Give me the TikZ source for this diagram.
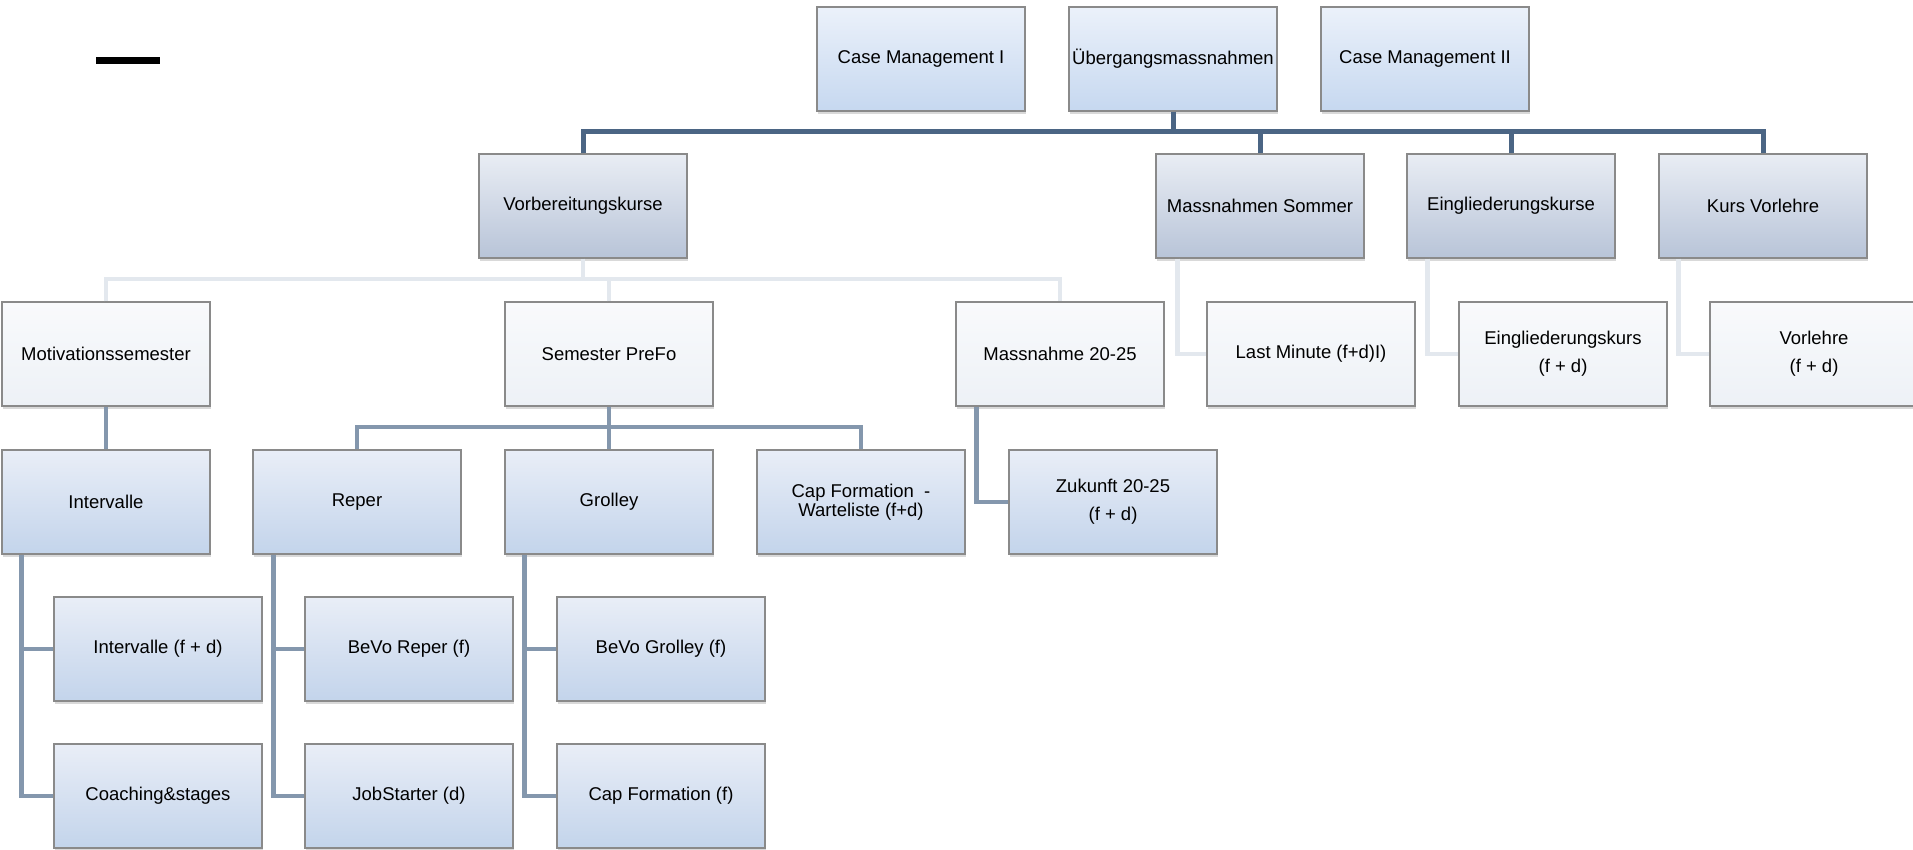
\documentclass[tikz,border=0pt]{standalone}
\usepackage{fontspec}
\setmainfont{Liberation Sans}
\usetikzlibrary{shadows}
\definecolor{busdark}{HTML}{4B6584}
\definecolor{busmid}{HTML}{8497AD}
\definecolor{buslight}{HTML}{E3E8EE}
\definecolor{boxline}{HTML}{8A8A8A}
\definecolor{topA}{HTML}{EBF1FA}
\definecolor{topB}{HTML}{C6D8F0}
\definecolor{grayA}{HTML}{E9EDF4}
\definecolor{grayB}{HTML}{B8C4D8}
\definecolor{paleA}{HTML}{F9FAFC}
\definecolor{paleB}{HTML}{EDF1F6}
\definecolor{blueA}{HTML}{E9EEF7}
\definecolor{blueB}{HTML}{C3D4EB}

\begin{document}
\begin{tikzpicture}[x=0.5pt,y=-0.5pt,
  box/.style={draw=boxline, line width=0.7pt, minimum width=104pt, minimum height=52pt,
    inner sep=0pt, align=center, font=\fontsize{9.25}{9.6}\selectfont,
    drop shadow={shadow xshift=0.3pt, shadow yshift=-1.6pt, opacity=0.3}},
  toprow/.style={box, top color=topA, bottom color=topB},
  grayrow/.style={box, top color=grayA, bottom color=grayB},
  palerow/.style={box, top color=paleA, bottom color=paleB},
  bluerow/.style={box, top color=blueA, bottom color=blueB},
  darkline/.style={draw=busdark, line width=2.5pt},
  midline/.style={draw=busmid, line width=2.4pt},
  lightline/.style={draw=buslight, line width=2.4pt}]
\useasboundingbox (0,0) rectangle (1913,850);
\fill (96,57) rectangle (160,64);
% top row
\node[toprow] (cm1) at (921,59) {Case Management I};
\node[toprow] (ueber) at (1173,59) {Übergangsmassnahmen};
\node[toprow] (cm2) at (1425,59) {Case Management II};
% second row
\node[grayrow] (vorb) at (583,206) {Vorbereitungskurse};
\node[grayrow] (msommer) at (1260,206) {Massnahmen Sommer};
\node[grayrow] (eingl) at (1511,206) {Eingliederungskurse};
\node[grayrow] (kursv) at (1763,206) {Kurs Vorlehre};
% third row
\node[palerow] (motiv) at (106,354) {Motivationssemester};
\node[palerow] (sem) at (609,354) {Semester PreFo};
\node[palerow] (m2025) at (1060,354) {Massnahme 20-25};
\node[palerow] (lastmin) at (1311,354) {Last Minute (f+d)I)};
\node[palerow] (einglk) at (1563,354) {Eingliederungskurs\\[4.6pt](f + d)};
\node[palerow] (vorl) at (1814,354) {Vorlehre\\[4.6pt](f + d)};
% fourth row
\node[bluerow] (interv) at (106,502) {Intervalle};
\node[bluerow] (reper) at (357,502) {Reper};
\node[bluerow] (grolley) at (609,502) {Grolley};
\node[bluerow] (capw) at (861,502) {Cap Formation\ \ -\\Warteliste (f+d)};
\node[bluerow] (zukunft) at (1113,502) {Zukunft 20-25\\[4.6pt](f + d)};
% fifth and sixth rows
\node[bluerow] (intfd) at (158,649) {Intervalle (f + d)};
\node[bluerow] (bevor) at (409,649) {BeVo Reper (f)};
\node[bluerow] (bevog) at (661,649) {BeVo Grolley (f)};
\node[bluerow] (coach) at (158,796) {Coaching\&stages};
\node[bluerow] (jobst) at (409,796) {JobStarter (d)};
\node[bluerow] (capf) at (661,796) {Cap Formation (f)};
% connectors
\coordinate (topbus) at (0,132);
\coordinate (vbus) at (0,279);
\coordinate (sbus) at (0,427);
\draw[darkline] (ueber.south) -- (ueber.south |- topbus);
\draw[darkline] (vorb.north) |- (kursv.north |- topbus) -- (kursv.north);
\draw[darkline] (msommer.north) -- (msommer.north |- topbus);
\draw[darkline] (eingl.north) -- (eingl.north |- topbus);
\draw[lightline] (vorb.south) -- (vorb.south |- vbus);
\draw[lightline] (motiv.north) |- (m2025.north |- vbus) -- (m2025.north);
\draw[lightline] (sem.north) -- (sem.north |- vbus);
\draw[lightline] ([xshift=11pt]msommer.south west) |- (lastmin.west);
\draw[lightline] ([xshift=10.5pt]eingl.south west) |- (einglk.west);
\draw[lightline] ([xshift=10pt]kursv.south west) |- (vorl.west);
\draw[midline] (motiv.south) -- (interv.north);
\draw[midline] (sem.south) -- (grolley.north);
\draw[midline] (reper.north) |- (capw.north |- sbus) -- (capw.north);
\draw[midline] ([xshift=10.5pt]m2025.south west) |- (zukunft.west);
\draw[midline] ([xshift=10pt]interv.south west) |- (coach.west);
\draw[midline] (intfd.west) -| ([xshift=10pt]interv.south west);
\draw[midline] ([xshift=10.5pt]reper.south west) |- (jobst.west);
\draw[midline] (bevor.west) -| ([xshift=10.5pt]reper.south west);
\draw[midline] ([xshift=10pt]grolley.south west) |- (capf.west);
\draw[midline] (bevog.west) -| ([xshift=10pt]grolley.south west);
\end{tikzpicture}
\end{document}
